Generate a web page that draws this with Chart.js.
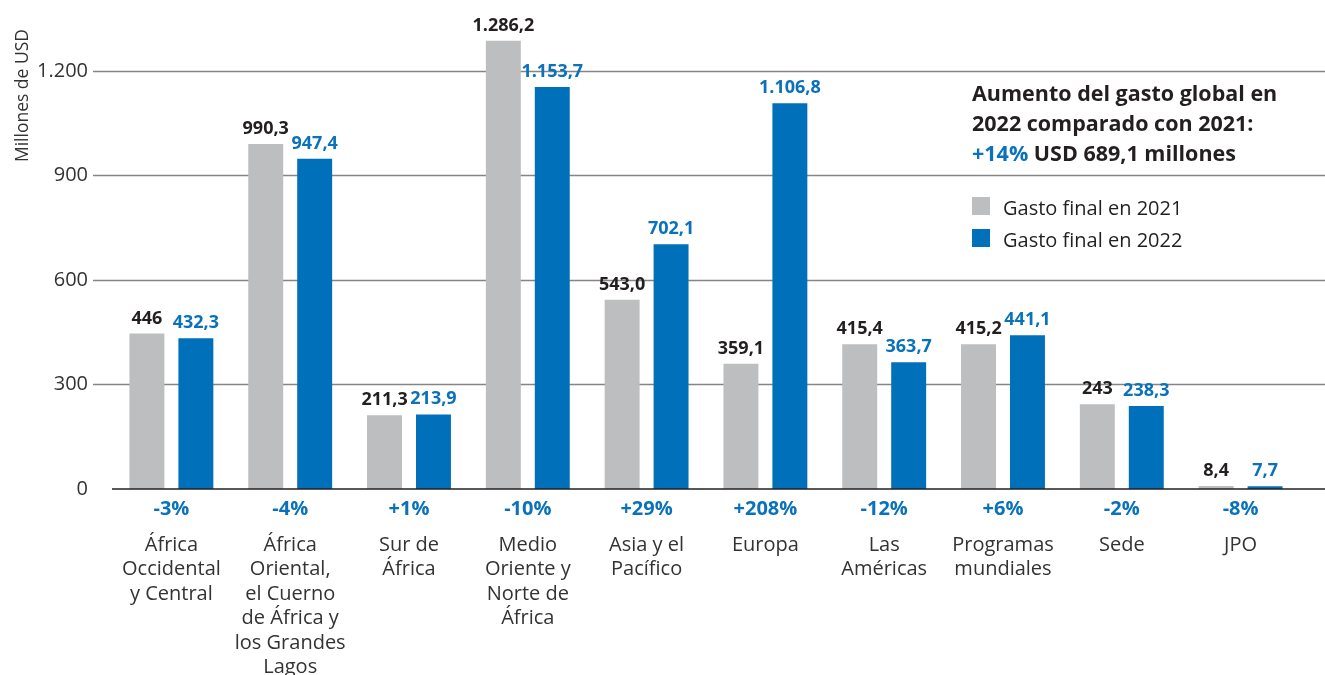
<!DOCTYPE html>
<html>
<head>
<meta charset="utf-8">
<script src="https://cdn.jsdelivr.net/npm/chart.js@4/dist/chart.umd.min.js"></script>
<style>
  html, body { margin: 0; padding: 0; background: #fff; }
  #wrap { width: 1325px; height: 675px; position: relative; }
</style>
</head>
<body>
<div id="wrap"><canvas id="myChart"></canvas></div>
<script>
// data
var categories = [
	["África", "Occidental", "y Central"],
	["África", "Oriental,", "el Cuerno", "de África y", "los Grandes", "Lagos"],
	["Sur de", "África"],
	["Medio", "Oriente y", "Norte de", "África"],
	["Asia y el", "Pacífico"],
	["Europa"],
	["Las", "Américas"],
	["Programas", "mundiales"],
	["Sede"],
	["JPO"]
];
var spend2021 = [446, 990.3, 211.3, 1286.2, 543.0, 359.1, 415.4, 415.2, 243, 8.4];
var spend2022 = [432.3, 947.4, 213.9, 1153.7, 702.1, 1106.8, 363.7, 441.1, 238.3, 7.7];
var labels2021 = ["446", "990,3", "211,3", "1.286,2", "543,0", "359,1", "415,4", "415,2", "243", "8,4"];
var labels2022 = ["432,3", "947,4", "213,9", "1.153,7", "702,1", "1.106,8", "363,7", "441,1", "238,3", "7,7"];
var pctChange = ["-3%", "-4%", "+1%", "-10%", "+29%", "+208%", "-12%", "+6%", "-2%", "-8%"];
var yTicks = [0, 300, 600, 900, 1200];

var GRAY = '#bcbec0';
var BLUE = '#0070ba';
var BLUE_TXT = '#0a72bb';
var DARK = '#231f20';
var FONT = "'Open Sans', sans-serif";

Chart.defaults.font.family = FONT;
Chart.defaults.color = '#333';

function fmtThousands(v) {
	return String(v).replace(/\B(?=(\d{3})+(?!\d))/g, '.');
}

// gridlines that run past the chart area, and the dark baseline
var gridPlugin = {
	id: 'gridExt',
	beforeDatasetsDraw: function(chart) {
		var ctx = chart.ctx, y = chart.scales.y;
		ctx.save();
		ctx.strokeStyle = '#858585';
		ctx.lineWidth = 1.3;
		y.ticks.forEach(function(t) {
			if (t.value === 0) return;
			var py = Math.round(y.getPixelForValue(t.value)) + 0.5;
			ctx.beginPath();
			ctx.moveTo(93, py);
			ctx.lineTo(chart.width, py);
			ctx.stroke();
		});
		ctx.restore();
	},
	afterDatasetsDraw: function(chart) {
		var ctx = chart.ctx, y = chart.scales.y;
		ctx.save();
		var py = y.getPixelForValue(0);
		ctx.strokeStyle = DARK;
		ctx.lineWidth = 1.5;
		ctx.beginPath();
		ctx.moveTo(chart.chartArea.left, py);
		ctx.lineTo(chart.width, py);
		ctx.stroke();
		ctx.restore();
	}
};

// value labels on top of bars
var valuePlugin = {
	id: 'values',
	afterDatasetsDraw: function(chart) {
		var ctx = chart.ctx;
		ctx.save();
		ctx.font = 'bold 18px ' + FONT;
		ctx.textAlign = 'center';
		ctx.textBaseline = 'alphabetic';
		chart.data.datasets.forEach(function(ds, i) {
			var meta = chart.getDatasetMeta(i);
			ctx.fillStyle = i === 0 ? DARK : BLUE_TXT;
			meta.data.forEach(function(bar, j) {
				ctx.fillText(ds.valueLabels[j], bar.x, bar.y - 10);
			});
		});
		ctx.restore();
	}
};

// note box, legend and y title
var notePlugin = {
	id: 'note',
	afterDraw: function(chart) {
		var ctx = chart.ctx;
		ctx.save();
		ctx.textAlign = 'left';
		ctx.textBaseline = 'alphabetic';
		ctx.font = 'bold 21.5px ' + FONT;
		ctx.fillStyle = DARK;
		ctx.fillText('Aumento del gasto global en', 972, 101);
		ctx.fillText('2022 comparado con 2021:', 972, 131);
		ctx.fillStyle = BLUE_TXT;
		ctx.fillText('+14%', 972, 161);
		var w = ctx.measureText('+14% ').width;
		ctx.fillStyle = DARK;
		ctx.fillText('USD 689,1 millones', 972 + w, 161);

		ctx.font = '20px ' + FONT;
		chart.data.datasets.forEach(function(ds, i) {
			var top = 197 + i * 32;
			ctx.fillStyle = ds.backgroundColor;
			ctx.fillRect(972, top, 18, 18);
			ctx.fillStyle = DARK;
			ctx.fillText(ds.label, 1003, top + 18);
		});

		ctx.translate(28, 29);
		ctx.rotate(-Math.PI / 2);
		ctx.textAlign = 'right';
		ctx.font = '17.5px ' + FONT;
		ctx.fillStyle = '#333';
		ctx.fillText('Millones de USD', 0, 0);
		ctx.restore();
	}
};

var ctx = document.getElementById('myChart');
var myChart = new Chart(ctx, {
	type: 'bar',
	data: {
		labels: categories,
		datasets: [{
			label: 'Gasto final en 2021',
			data: spend2021,
			valueLabels: labels2021,
			backgroundColor: GRAY,
			categoryPercentage: 0.824,
			barPercentage: 0.714
		}, {
			label: 'Gasto final en 2022',
			data: spend2022,
			valueLabels: labels2022,
			backgroundColor: BLUE,
			categoryPercentage: 0.824,
			barPercentage: 0.714
		}]
	},
	options: {
		responsive: true,
		maintainAspectRatio: false,
		animation: false,
		layout: { padding: { top: 21, right: 25, left: 0, bottom: 0 } },
		plugins: {
			legend: { display: false },
			tooltip: { enabled: false }
		},
		scales: {
			y: {
				min: 0,
				max: 1300,
				afterBuildTicks: function(scale) {
					scale.ticks = yTicks.map(function(v) { return { value: v }; });
				},
				afterFit: function(scale) { scale.width = 112; },
				grid: { display: false, drawTicks: false },
				border: { display: false },
				ticks: {
					padding: 24,
					color: '#333',
					font: { size: 20 },
					callback: function(v) { return fmtThousands(v); }
				}
			},
			x: {
				type: 'category',
				labels: pctChange,
				weight: 0,
				afterFit: function(scale) { scale.height = 36; },
				grid: { display: false, drawTicks: false },
				border: { display: false },
				ticks: {
					padding: 8,
					autoSkip: false,
					maxRotation: 0,
					color: BLUE_TXT,
					font: { size: 20, weight: 'bold' }
				}
			},
			x2: {
				type: 'category',
				position: 'bottom',
				labels: categories,
				weight: 1,
				afterFit: function(scale) { scale.height = 150; },
				grid: { display: false, drawTicks: false },
				border: { display: false },
				ticks: {
					padding: 8,
					autoSkip: false,
					maxRotation: 0,
					color: '#333',
					font: { size: 20, lineHeight: 1.22 }
				}
			}
		}
	},
	plugins: [gridPlugin, valuePlugin, notePlugin]
});
</script>
</body>
</html>
